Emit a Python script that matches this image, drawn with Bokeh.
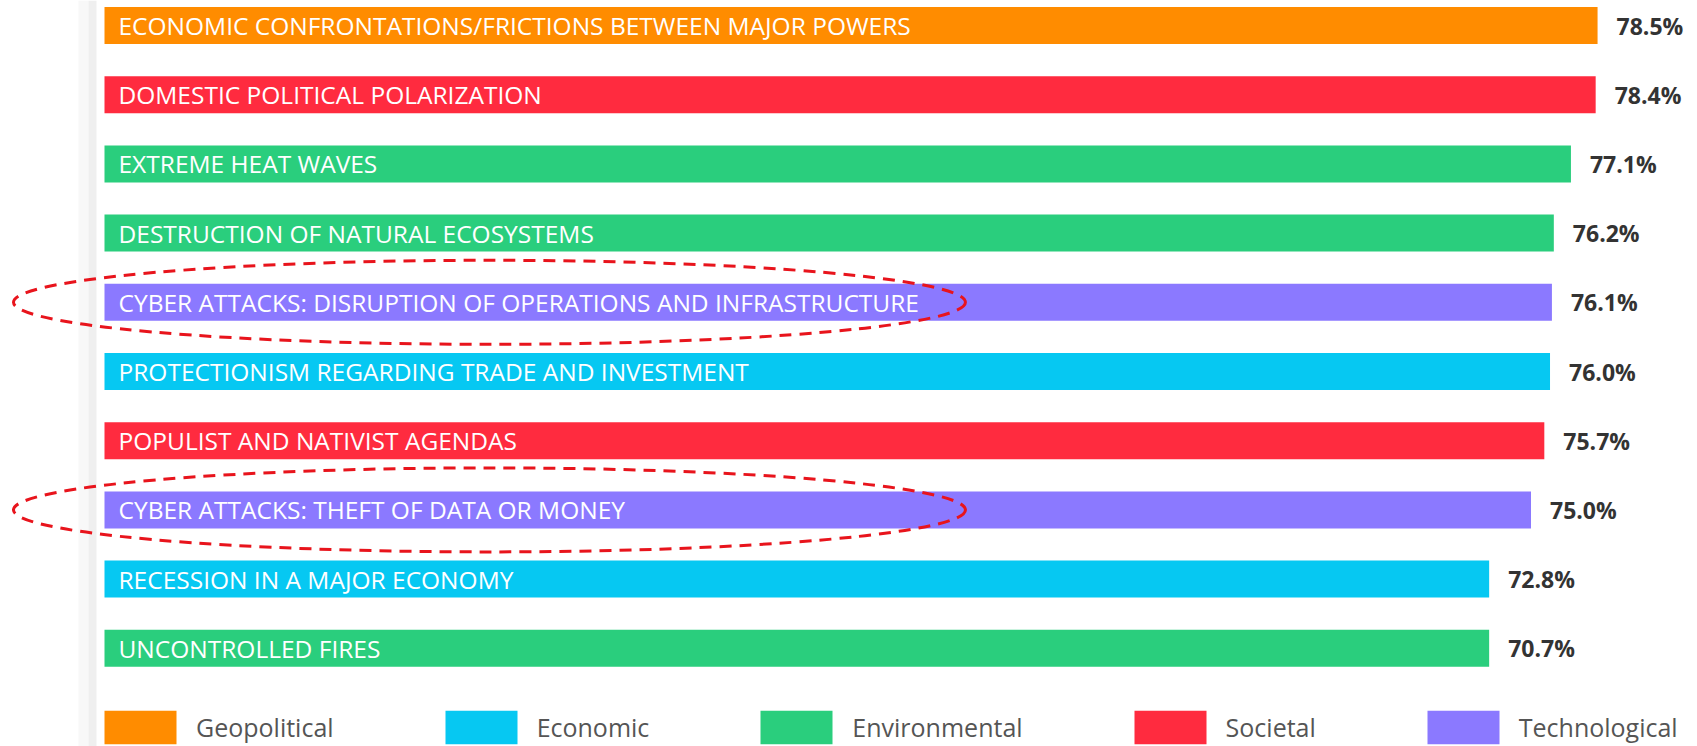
from bokeh.plotting import figure
from bokeh.models import Range1d, BoxAnnotation, ColumnDataSource
from bokeh.core.properties import value
from bokeh.embed import file_html
from bokeh.resources import INLINE

# ---- data ----
risks = [
    "ECONOMIC CONFRONTATIONS/FRICTIONS BETWEEN MAJOR POWERS",
    "DOMESTIC POLITICAL POLARIZATION",
    "EXTREME HEAT WAVES",
    "DESTRUCTION OF NATURAL ECOSYSTEMS",
    "CYBER ATTACKS: DISRUPTION OF OPERATIONS AND INFRASTRUCTURE",
    "PROTECTIONISM REGARDING TRADE AND INVESTMENT",
    "POPULIST AND NATIVIST AGENDAS",
    "CYBER ATTACKS: THEFT OF DATA OR MONEY",
    "RECESSION IN A MAJOR ECONOMY",
    "UNCONTROLLED FIRES",
]
risk_types = ["Geopolitical", "Societal", "Environmental", "Environmental", "Technological",
              "Economic", "Societal", "Technological", "Economic", "Environmental"]
shares = [78.5, 78.4, 77.1, 76.2, 76.1, 76.0, 75.7, 75.0, 72.8, 70.7]
# bar lengths as drawn in the picture (the last bar is drawn as long as the 72.8% one)
bar_lengths = [78.5, 78.4, 77.1, 76.2, 76.1, 76.0, 75.7, 75.0, 72.8, 72.8]
type_order = ["Geopolitical", "Economic", "Environmental", "Societal", "Technological"]
type_colors = ["#FF8C00", "#06C8F2", "#2ACE7D", "#FF2B3F", "#8B79FF"]
highlight_prefix = "CYBER ATTACKS"

W, H = 1697, 746
X0, PXX = 104, 19.02   # screen x of 0 %, px per %
Y0, PXY = 25, 69.2     # screen y of first bar centre, px per row
p = figure(width=W, height=H, output_backend="svg", toolbar_location=None,
           x_range=Range1d(-X0 / PXX, (W - X0) / PXX),
           y_range=Range1d((H - Y0) / PXY, -Y0 / PXY),
           min_border=0, min_border_left=0, min_border_right=0,
           min_border_top=0, min_border_bottom=0)
p.axis.visible = False
p.grid.visible = False
p.outline_line_color = None
p.background_fill_color = "white"
p.border_fill_color = "white"

# left panel border shading
p.add_layout(BoxAnnotation(left=(78 - X0) / PXX, right=(88 - X0) / PXX, fill_color="#f8f8f8",
                           fill_alpha=1, line_color=None, level="underlay"))
p.add_layout(BoxAnnotation(left=(88 - X0) / PXX, right=(96 - X0) / PXX, fill_color="#efefef",
                           fill_alpha=1, line_color=None, level="underlay"))

idx = list(range(len(risks)))
color_of = dict(zip(type_order, type_colors))

for t in type_order:
    sel = [i for i in idx if risk_types[i] == t]
    src = ColumnDataSource(dict(y=sel, right=[bar_lengths[i] for i in sel]))
    p.hbar(y="y", left=0, right="right", height=0.535, source=src,
           fill_color=color_of[t], line_color=None, legend_label=t)

src_all = ColumnDataSource(dict(
    y=idx, name=risks, right=bar_lengths,
    lab=[f"{v:.1f}%" for v in shares],
))
p.text(x=0, y="y", text="name", source=src_all, x_offset=14,
       text_font=value("Open Sans"), text_font_size="24.5px", text_color="white",
       text_baseline="middle", text_align="left")
p.text(x="right", y="y", text="lab", source=src_all, x_offset=19,
       text_font=value("Open Sans"), text_font_size="23px", text_font_style="bold",
       text_color="#333333", text_baseline="middle", text_align="left")

# dashed ellipses around highlighted risks
hl = [i for i in idx if risks[i].startswith(highlight_prefix)]
p.ellipse(x=[20.24] * len(hl), y=hl, width=50.05, height=1.214,
          fill_color=None, line_color="#E8141C", line_width=3, line_dash="12 8")

leg = p.legend[0]
leg.orientation = "horizontal"
leg.location = (95, -2)
leg.glyph_width = 90
leg.glyph_height = 42
leg.label_standoff = 11
leg.spacing = 102
leg.padding = 0
leg.margin = 0
leg.border_line_color = None
leg.background_fill_alpha = 0
leg.label_text_font = "Open Sans"
leg.label_text_font_size = "25px"
leg.label_text_color = "#555555"

open("out.html", "w").write(file_html(p, INLINE))
